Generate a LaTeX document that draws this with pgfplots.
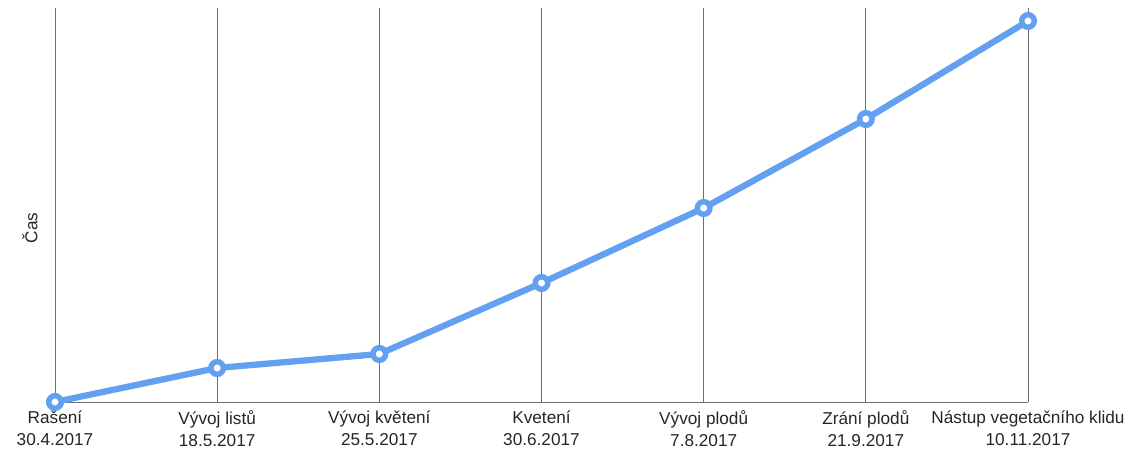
\documentclass[border=0pt]{standalone}
\usepackage{pgfplots}
\pgfplotsset{compat=1.18}
\usepackage{fontspec}
\setmainfont{Liberation Sans}
\definecolor{lineblue}{RGB}{100,160,242}
\definecolor{gridgray}{RGB}{110,110,110}
\begin{document}
\begin{tikzpicture}
\path[use as bounding box] (-55pt,-55pt) rectangle (1084pt,402pt);
\begin{axis}[
  at={(0,0)}, anchor=south west,
  scale only axis,
  width=973pt, height=394pt,
  xmin=0, xmax=6, ymin=0, ymax=394,
  axis x line*=bottom,
  axis y line=none,
  axis line style={gridgray, line width=0.9pt},
  xtick={0,1,2,3,4,5,6},
  xticklabels={{Rašení\\30.4.2017},{Vývoj listů\\18.5.2017},{Vývoj květení\\25.5.2017},{Kvetení\\30.6.2017},{Vývoj plodů\\7.8.2017},{Zrání plodů\\21.9.2017},{Nástup vegetačního klidu\\10.11.2017}},
  xticklabel style={align=center, font=\fontsize{17.2}{22.5}\selectfont, text=black!85, yshift=-5pt},
  major tick length=0pt,
  xmajorgrids,
  grid style={gridgray, line width=0.9pt},
  ytick=\empty,
  clip=false,
]
\addplot[lineblue, line width=6.3pt, line join=round,
  mark=*, mark size=6.3pt, mark options={fill=white, draw=lineblue, line width=5.5pt}]
  coordinates {(0,0) (1,34) (2,48) (3,119) (4,194) (5,283) (6,381)};
\end{axis}
\node[rotate=90, font=\fontsize{17.2}{18}\selectfont, text=black!85] at (-25pt,174pt) {Čas};
\end{tikzpicture}
\end{document}
